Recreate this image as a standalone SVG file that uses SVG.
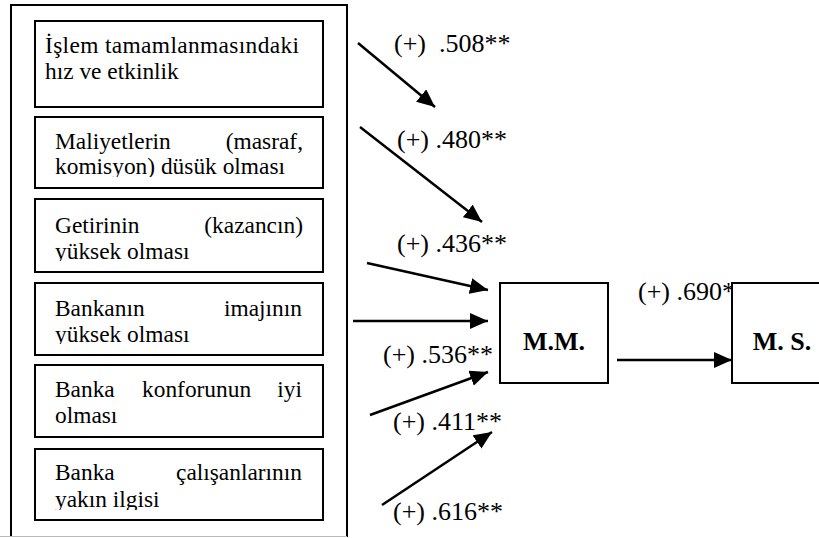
<svg xmlns="http://www.w3.org/2000/svg" width="819" height="538" viewBox="0 0 819 538">
<style>
.box{fill:#fff;stroke:#000;stroke-width:2}
text{font-family:"Liberation Serif","Times New Roman",Times,serif;fill:#000}
.t{font-size:23.4px}
.lbl{font-size:26px}
.big{font-size:26px;font-weight:bold}
.c{stroke:#000;stroke-width:2.5;fill:none;marker-end:url(#ah)}
</style>
<defs>
<marker id="ah" markerUnits="userSpaceOnUse" markerWidth="20" markerHeight="16" refX="18" refY="8" orient="auto">
<path d="M0,0 L18,8 L0,16 Z" fill="#000"/>
</marker>
<clipPath id="c1"><rect x="35" y="21" width="288" height="86"/></clipPath>
<clipPath id="c2"><rect x="35" y="117" width="288" height="60"/></clipPath>
<clipPath id="c3"><rect x="35" y="199" width="288" height="62"/></clipPath>
<clipPath id="c4"><rect x="35" y="283" width="288" height="61"/></clipPath>
<clipPath id="c5"><rect x="35" y="365" width="288" height="72"/></clipPath>
<clipPath id="c6"><rect x="35" y="449" width="288" height="61"/></clipPath>
</defs>
<rect x="0" y="0" width="819" height="538" fill="#fff"/>
<g id="outer">
<path d="M11,537 L11,5 L347,5 L347,537" fill="none" stroke="#000" stroke-width="2"/>
<line x1="0" y1="536.5" x2="347" y2="536.5" stroke="#bbb" stroke-width="1"/>
</g>
<g id="n1">
<rect class="box" x="35" y="21" width="288" height="86"/>
<g clip-path="url(#c1)">
<text class="t" x="45" y="53" textLength="254">İşlem tamamlanmasındaki</text>
<text class="t" x="45" y="79">hız ve etkinlik</text>
</g>
</g>
<g id="n2">
<rect class="box" x="35" y="117" width="288" height="71"/>
<g clip-path="url(#c2)">
<text class="t" x="55" y="149">Maliyetlerin</text>
<text class="t" x="303" y="149" text-anchor="end">(masraf,</text>
<text class="t" x="55" y="174">komisyon) düsük olması</text>
</g>
</g>
<g id="n3">
<rect class="box" x="35" y="199" width="288" height="73"/>
<g clip-path="url(#c3)">
<text class="t" x="55" y="233">Getirinin</text>
<text class="t" x="303" y="233" text-anchor="end">(kazancın)</text>
<text class="t" x="55" y="259">yüksek olması</text>
</g>
</g>
<g id="n4">
<rect class="box" x="35" y="283" width="288" height="72"/>
<g clip-path="url(#c4)">
<text class="t" x="55" y="316">Bankanın</text>
<text class="t" x="302" y="316" text-anchor="end">imajının</text>
<text class="t" x="55" y="342">yüksek olması</text>
</g>
</g>
<g id="n5">
<rect class="box" x="35" y="365" width="288" height="72"/>
<g clip-path="url(#c5)">
<text class="t" x="55" y="397">Banka</text>
<text class="t" x="142" y="397">konforunun</text>
<text class="t" x="302" y="397" text-anchor="end">iyi</text>
<text class="t" x="55" y="423">olması</text>
</g>
</g>
<g id="n6">
<rect class="box" x="35" y="449" width="288" height="71"/>
<g clip-path="url(#c6)">
<text class="t" x="55" y="480">Banka</text>
<text class="t" x="302" y="480" text-anchor="end">çalışanlarının</text>
<text class="t" x="55" y="507">yakın ilgisi</text>
</g>
</g>
<g id="labels">
<text class="lbl" x="394" y="52" xml:space="preserve">(+)  .508**</text>
<text class="lbl" x="397" y="148">(+) .480**</text>
<text class="lbl" x="397" y="252">(+) .436**</text>
<text class="lbl" x="383" y="363">(+) .536**</text>
<text class="lbl" x="393" y="430">(+) .411**</text>
<text class="lbl" x="393" y="520">(+) .616**</text>
<text class="lbl" x="638" y="300">(+) .690**</text>
</g>
<g id="connectors">
<line class="c" x1="358" y1="43" x2="435" y2="107"/>
<line class="c" x1="360" y1="127" x2="482" y2="222"/>
<line class="c" x1="367" y1="263" x2="488" y2="290"/>
<line class="c" x1="353" y1="321" x2="488" y2="321"/>
<line class="c" x1="370" y1="415" x2="488" y2="372"/>
<line class="c" x1="382" y1="505" x2="492" y2="432"/>
<line class="c" x1="617" y1="360" x2="732" y2="360"/>
</g>
<g id="mm">
<rect class="box" x="500" y="283" width="108" height="100"/>
<text class="big" x="554" y="350" text-anchor="middle">M.M.</text>
</g>
<g id="ms">
<rect class="box" x="732" y="283" width="90" height="100"/>
<text class="big" x="782" y="350" text-anchor="middle">M. S.</text>
</g>
</svg>
